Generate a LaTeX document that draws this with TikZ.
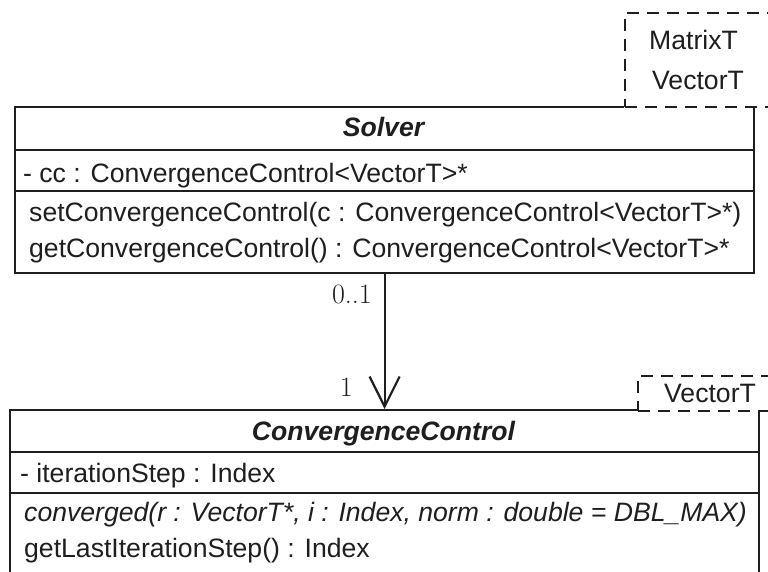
\documentclass[tikz,border=0pt]{standalone}
\usepackage{fontspec}
\setmainfont{Liberation Sans}
\newfontfamily\multfont{Latin Modern Roman}
\usetikzlibrary{arrows.meta}
\definecolor{ink}{HTML}{1E1E1E}
\begin{document}
\begin{tikzpicture}[x=1pt,y=-1pt,
  classbox/.style={draw=ink, line width=2.2pt, fill=white, inner sep=0pt,
    anchor=north west},
  tmplbox/.style={draw=ink, line width=2pt, dash pattern=on 12pt off 8pt,
    preaction={fill=white, draw=white, solid, line width=2.8pt},
    inner sep=0pt, anchor=north west},
  sepline/.style={draw=ink, line width=2.2pt},
  member/.style={anchor=base west, inner sep=0pt, text=ink,
    font=\fontsize{26.6}{30}\selectfont},
  abstractop/.style={member, font=\fontsize{26.6}{30}\selectfont\itshape},
  classname/.style={anchor=base, inner sep=0pt, text=ink,
    font=\fontsize{26.6}{30}\selectfont\bfseries\itshape},
  mult/.style={anchor=base east, inner sep=0pt, text=ink,
    font=\fontsize{28}{30}\selectfont\multfont},
  assoc/.style={draw=ink, line width=2.2pt,
    -{Straight Barb[length=30pt, width=30pt, line width=2.2pt]}}
]
\useasboundingbox (0,0) rectangle (768,572);
\clip (0,0) rectangle (768,572);

% ---- class Solver ----
\node[classbox, minimum width=739pt, minimum height=166pt] (solver) at (14,106) {};
\draw[sepline] (solver.west |- 0,150) -- (solver.east |- 0,150);
\draw[sepline] (solver.west |- 0,191) -- (solver.east |- 0,191);
\node[tmplbox, minimum width=200pt, minimum height=94pt] (solvertpl) at (624,12) {};
\node[member] (mtx) at (649,50) {MatrixT};
\node[member] (vec1) at (652,90) {VectorT};
\node[classname] (solvername) at (383.5,137) {Solver};
\node[member] (ccattr) at (23,183) {- cc : ConvergenceControl<VectorT>*};
\node[member] (setcc) at (29,222) {setConvergenceControl(c : ConvergenceControl<VectorT>*)};
\node[member] (getcc) at (29,257) {getConvergenceControl() : ConvergenceControl<VectorT>*};

% ---- class ConvergenceControl ----
\node[classbox, minimum width=749pt, minimum height=220pt] (ccbox) at (9,409) {};
\draw[sepline] (ccbox.west |- 0,452) -- (ccbox.east |- 0,452);
\draw[sepline] (ccbox.west |- 0,493) -- (ccbox.east |- 0,493);
\node[tmplbox, minimum width=160pt, minimum height=35pt] (cctpl) at (637,375) {};
\node[member] (vec2) at (664,402) {VectorT};
\node[classname] (ccname) at (383.5,440) {ConvergenceControl};
\node[member] (iterattr) at (20,482) {- iterationStep : Index};
\node[abstractop] (convop) at (24,521) {converged(r : VectorT*, i : Index, norm : double = DBL\_MAX)};
\node[member] (lastop) at (24,557) {getLastIterationStep() : Index};

% ---- association ----
\draw[assoc] (solver.south) -- (solver.south |- ccbox.north);
\node[mult] (m01) at (372,303) {0..1};
\node[mult] (m1) at (353,396) {1};
\end{tikzpicture}
\end{document}
